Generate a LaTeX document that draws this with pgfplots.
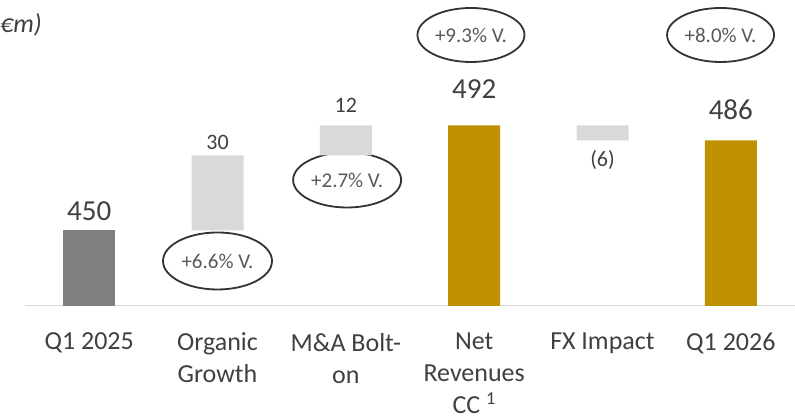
\documentclass[border=0pt]{standalone}
\usepackage{fontspec}
\setmainfont{Carlito}
\usepackage{pgfplots}
\pgfplotsset{compat=1.18}
\usetikzlibrary{shapes.geometric}
\definecolor{barDark}{HTML}{7F7F7F}
\definecolor{barLight}{HTML}{D9D9D9}
\definecolor{barGold}{HTML}{BF9000}
\definecolor{txt}{HTML}{404040}
\definecolor{txtsoft}{HTML}{595959}
\definecolor{ringc}{HTML}{333333}
\tikzset{
  val/.style={text=txt, font=\fontsize{29}{34}\selectfont, inner sep=0pt},
  dval/.style={text=txt, font=\fontsize{22}{26}\selectfont, inner sep=0pt},
  ring/.style={ellipse, draw=ringc, line width=1.8pt, inner sep=0pt,
               text=txtsoft, font=\fontsize{21}{24}\selectfont}
}
\begin{document}
\begin{tikzpicture}
\begin{axis}[
  at={(25pt,112.5pt)}, anchor=south west,
  scale only axis, width=770pt, height=305.5pt,
  ybar stacked, bar width=52pt,
  xmin=-0.5, xmax=5.5, ymin=420, ymax=542.2,
  xtick={0,1,2,3,4,5},
  xticklabels={Q1 2025,{Organic\\Growth},{M\&A Bolt-\\on},{Net\\Revenues\\CC \textsuperscript{1}},FX Impact,Q1 2026},
  xticklabel style={align=center, anchor=north, yshift=-24pt, text=txt,
                    font=\fontsize{26}{32}\selectfont},
  major tick length=0pt,
  ytick=\empty,
  axis x line*=bottom, axis y line=none,
  x axis line style={draw=barLight, line width=1.6pt},
]
% invisible base of the floating bars
\addplot[fill=none, draw=none] coordinates {(0,0) (1,450) (2,480) (3,0) (4,486) (5,0)};
\addplot[fill=barDark, draw=none] coordinates {(0,450) (1,0) (2,0) (3,0) (4,0) (5,0)};
\addplot[fill=barLight, draw=none] coordinates {(0,0) (1,30) (2,12) (3,0) (4,6) (5,0)};
\addplot[fill=barGold, draw=none] coordinates {(0,0) (1,0) (2,0) (3,492) (4,0) (5,486)};

\node[val] at (axis cs:0,457.8) {450};
\node[dval] at (axis cs:1,485.4) {30};
\node[dval] at (axis cs:2,500.2) {12};
\node[val] at (axis cs:3,506.6) {492};
\node[dval] at (axis cs:4,478.2) {(6)};
\node[val] at (axis cs:5,498.2) {486};

\node[ring, minimum width=109pt, minimum height=57pt] at (axis cs:1.0,437.8) {+6.6\% V.};
\node[ring, minimum width=108pt, minimum height=55pt] at (axis cs:2.01,470.2) {+2.7\% V.};
\node[ring, minimum width=107pt, minimum height=54pt] at (axis cs:2.975,528.2) {+9.3\% V.};
\node[ring, minimum width=107pt, minimum height=54pt] at (axis cs:4.92,528.2) {+8.0\% V.};
\end{axis}
\node[anchor=east, text=txt, inner sep=0pt, font=\fontsize{26}{30}\selectfont\itshape] at (42pt,393pt) {(€m)};
\pgfresetboundingbox
\useasboundingbox (0,0) rectangle (795pt,418pt);
\end{tikzpicture}
\end{document}
